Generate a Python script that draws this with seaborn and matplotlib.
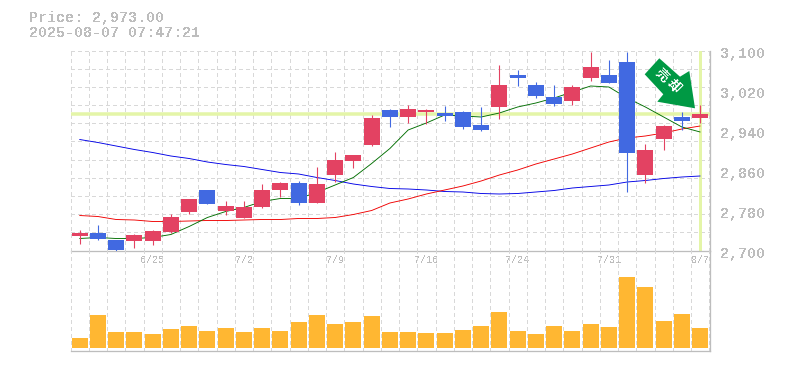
import matplotlib
matplotlib.use('Agg')
import matplotlib.pyplot as plt
import numpy as np
import pandas as pd
import seaborn as sns
from matplotlib.patches import Polygon
from matplotlib.transforms import IdentityTransform

# candles, oldest first
opens = [2729, 2735, 2721, 2719, 2719, 2737, 2777, 2821, 2779, 2765, 2787, 2821,
         2835, 2795, 2851, 2879, 2911, 2981, 2967, 2977, 2975, 2977, 2951, 2987,
         3051, 3031, 3007, 2999, 3045, 3051, 3077, 2851, 2923, 2967, 2965]
closes = [2735, 2723, 2701, 2731, 2739, 2767, 2803, 2793, 2789, 2787, 2821, 2835,
          2795, 2833, 2881, 2891, 2965, 2967, 2983, 2981, 2969, 2947, 2941, 3031,
          3045, 3009, 2993, 3027, 3067, 3035, 2895, 2901, 2949, 2959, 2973]
highs = [2741, 2751, 2721, 2733, 2741, 2773, 2803, 2821, 2799, 2799, 2833, 2837,
         2839, 2867, 2897, 2891, 2971, 2983, 2991, 2983, 2989, 2979, 2987, 3071,
         3061, 3037, 3031, 3031, 3097, 3081, 3097, 2913, 2951, 2977, 2991]
lows = [2713, 2721, 2699, 2705, 2711, 2735, 2773, 2793, 2771, 2765, 2785, 2807,
        2791, 2795, 2837, 2865, 2909, 2947, 2955, 2953, 2959, 2943, 2939, 2963,
        3029, 3005, 2989, 2991, 3039, 3035, 2817, 2835, 2901, 2941, 2955]
volumes = [10, 33, 16, 16, 14, 19, 22, 17, 20, 16, 20, 17, 26, 33, 24, 26, 32, 16,
           16, 15, 15, 18, 22, 36, 17, 14, 22, 17, 24, 21, 71, 61, 27, 34, 20]

ma_short = [2724, 2726, 2724, 2724, 2726, 2732, 2748, 2766, 2778, 2786, 2798, 2804,
            2804, 2816, 2831, 2846, 2874, 2904, 2941, 2955, 2971, 2969, 2967, 2975,
            2987, 2995, 3005, 3017, 3029, 3027, 3005, 2987, 2967, 2947, 2937]
ma_mid = [2770, 2768, 2762, 2761, 2758, 2758, 2759, 2760, 2760, 2761, 2762, 2762,
          2764, 2764, 2766, 2772, 2780, 2795, 2803, 2813, 2821, 2829, 2839, 2851,
          2861, 2873, 2883, 2893, 2905, 2917, 2925, 2929, 2935, 2943, 2949]
ma_long = [2922, 2916, 2909, 2902, 2896, 2889, 2884, 2877, 2872, 2868, 2862, 2856,
           2853, 2846, 2840, 2833, 2828, 2824, 2823, 2821, 2818, 2817, 2814, 2813,
           2814, 2817, 2820, 2825, 2828, 2831, 2837, 2840, 2844, 2847, 2849]

date_positions = [4, 9, 14, 19, 24, 29, 34]
date_labels = ['6/25', '7/2', '7/9', '7/16', '7/24', '7/31', '8/7']
price_ticks = [2700, 2780, 2860, 2940, 3020, 3100]
price_labels = ['2,700', '2,780', '2,860', '2,940', '3,020', '3,100']

W, H = 785, 370
GRAY = '#bdbdbd'
GRID = '#d8d8d8'
UP = '#e34262'
DOWN = '#4169e1'
HILITE = '#e4f5a8'
ARROW = '#009944'
PX = 0.72  # one pixel in points at dpi 100

sns.set_theme(style='white')
plt.rcParams['font.family'] = ['Liberation Mono', 'Noto Sans CJK JP', 'DejaVu Sans']
plt.rcParams['text.antialiased'] = False


def box(left, top, right, bottom):
    return [left / W, 1 - bottom / H, (right - left) / W, (bottom - top) / H]


def style_grid(ax):
    ax.set_xlim(0, 35.04)
    ax.set_xticks(np.arange(0, 36))
    ax.set_xticklabels([])
    ax.tick_params(axis='both', which='both', length=0)
    ax.grid(True, axis='x', color=GRID, lw=PX * 1.1, dashes=(3, 3), antialiased=False)
    ax.set_axisbelow(True)
    for side in ['top', 'left']:
        ax.spines[side].set_visible(False)
    for side in ['right', 'bottom']:
        ax.spines[side].set_color(GRAY)
        ax.spines[side].set_linewidth(1.3 * PX)


fig = plt.figure(figsize=(W / 100, H / 100), dpi=100)
ax = fig.add_axes(box(70.5, 50.5, 710, 250.5))
vol = fig.add_axes(box(70.5, 250.5, 710, 350.5))
ax.set_facecolor('none')
vol.set_facecolor('none')

df = pd.DataFrame({'pos': np.arange(len(closes)) + 0.5, 'short': ma_short,
                   'mid': ma_mid, 'long': ma_long, 'volume': volumes})

# price pane
style_grid(ax)
ax.set_ylim(2700, 3100)
ax.set_yticks(np.linspace(2700, 3100, 12))
ax.set_yticklabels([])
ax.grid(True, axis='y', color=GRID, lw=PX * 1.1, dashes=(3, 3), antialiased=False)
ax.axhline(closes[-1], color=HILITE, lw=3.5 * PX, zorder=1.5)
ax.axvline(df['pos'].iloc[-1], color=HILITE, lw=3 * PX, zorder=1.5)

line_kw = dict(lw=0.9 * PX, ax=ax, zorder=2)
sns.lineplot(data=df, x='pos', y='long', color='#0000e6', **line_kw)
sns.lineplot(data=df, x='pos', y='mid', color='#f00000', **line_kw)
sns.lineplot(data=df, x='pos', y='short', color='#006e00', **line_kw)
ax.set_xlabel('')
ax.set_ylabel('')

o = np.array(opens)
c = np.array(closes)
colors = [UP if b >= a else DOWN for a, b in zip(o, c)]
ax.vlines(df['pos'], lows, highs, colors=colors, lw=1.1 * PX, zorder=3)
ax.bar(df['pos'], np.abs(c - o), bottom=np.minimum(o, c), width=0.88, color=colors,
       linewidth=0, zorder=4)

ax.set_xticks(df['pos'].iloc[date_positions], minor=True)
ax.set_xticklabels(date_labels, minor=True, fontsize=7.2, color=GRAY)
ax.tick_params(axis='x', which='minor', pad=3.5)

for tick, label in zip(price_ticks, price_labels):
    ax.annotate(label, xy=(1, tick), xycoords=('axes fraction', 'data'),
                xytext=(7.5, -2.2), textcoords='offset points', ha='left', va='center',
                fontsize=10.8, color=GRAY, fontweight='bold')

# volume pane
style_grid(vol)
vol.set_ylim(-2.3, 97.7)
vol.set_yticks([])
sns.barplot(data=df, x='pos', y='volume', native_scale=True, width=0.88,
            color='#ffb732', saturation=1, linewidth=0, ax=vol, zorder=3)
style_grid(vol)
vol.set_xlabel('')
vol.set_ylabel('')

# header
fig.text(29 / W, 1 - 18 / H, 'Price: 2,973.00', fontsize=10.8, color=GRAY, va='center',
         fontweight='bold')
fig.text(29 / W, 1 - 33 / H, '2025-08-07 07:47:21', fontsize=10.8, color=GRAY, va='center',
         fontweight='bold')

# sell signal arrow, pixel positions from the top left
arrow_px = [(659.3, 58.3), (680, 76.7), (689.3, 71), (695, 108.3),
            (657.3, 101.7), (663.3, 94.3), (644.7, 74.3)]
fig.add_artist(Polygon([(x, H - y) for x, y in arrow_px], closed=True, facecolor=ARROW,
                       edgecolor='none', transform=IdentityTransform(), zorder=6))
for ch, (x, y) in zip('売却', [(661, 75.7), (672.7, 86.7)]):
    fig.text(x / W, 1 - y / H, ch, color='white', fontsize=9.5, fontweight='bold',
             rotation=-45, ha='center', va='center', zorder=7)

fig.savefig('out.png', dpi=100)
